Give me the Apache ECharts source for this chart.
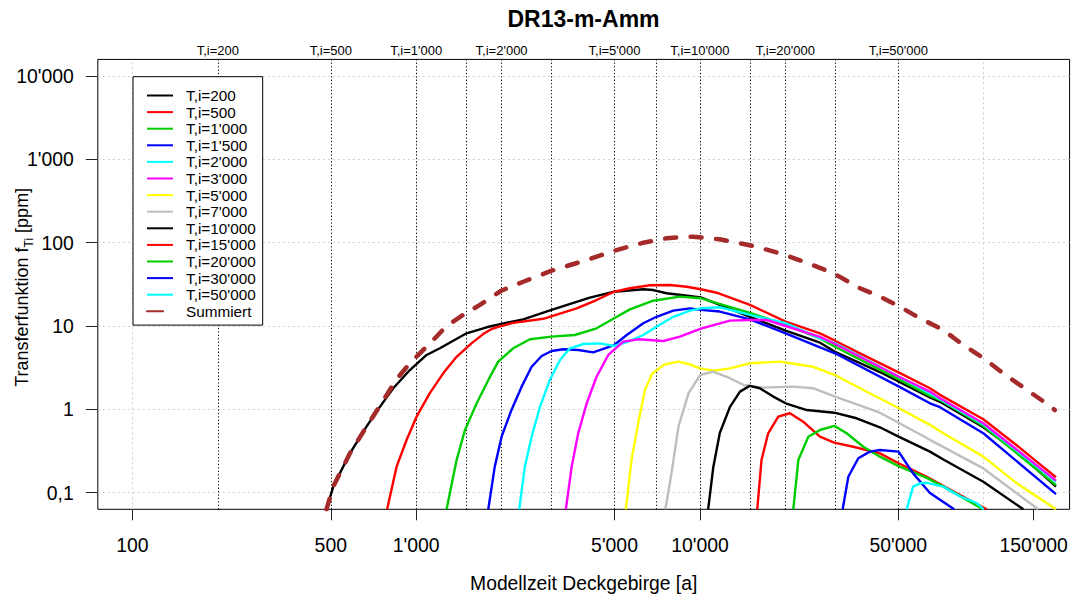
<!DOCTYPE html>
<html><head><meta charset="utf-8">
<script src="https://cdn.jsdelivr.net/npm/echarts@6/dist/echarts.min.js"></script>
<style>html,body{margin:0;padding:0;background:#fff}#c{width:1071px;height:599px}</style>
</head><body><div id="c"></div>
<script>
const FONT = "'Liberation Sans', Arial, sans-serif";
const seriesNames = ["T,i=200","T,i=500","T,i=1'000","T,i=1'500","T,i=2'000","T,i=3'000","T,i=5'000","T,i=7'000","T,i=10'000","T,i=15'000","T,i=20'000","T,i=30'000","T,i=50'000","Summiert"];
const seriesColors = ['#000000','#FF0000','#00CD00','#0000FF','#00FFFF','#FF00FF','#FFFF00','#BEBEBE','#000000','#FF0000','#00CD00','#0000FF','#00FFFF','#A52A2A'];

const t200 = [[483,0.063],[510,0.118],[584,0.296],[668,0.62],[745,1.07],[830,1.79],[950,2.96],[1088,4.49],[1212,5.4],[1505,8.17],[1771,9.65],[1994,10.6],[2384,12.0],[3000,15.6],[4093,21.9],[4988,25.8],[6314,27.6],[6843,27.0],[7631,24.7],[8735,23.4],[10080,22.0],[12760,16.0],[15010,12.9],[20050,8.78],[26500,6.31],[29920,4.91],[43070,2.8],[50300,2.14],[64650,1.39],[70150,1.23],[99700,0.61],[134000,0.29],[179800,0.118]];
const t500 = [[790,0.063],[853,0.205],[925,0.428],[1003,0.815],[1117,1.56],[1245,2.70],[1388,4.27],[1566,6.19],[1722,8.0],[1844,9.2],[1973,9.9],[2197,10.9],[2805,12.2],[3675,16.3],[4322,20.5],[4988,25.8],[5665,28.4],[6664,30.8],[7837,31.0],[8975,29.6],[10080,27.6],[11450,25.1],[15010,17.9],[20050,11.3],[26500,8.17],[29920,6.66],[36640,4.70],[50300,2.75],[64650,1.79],[70150,1.49],[99700,0.76],[130600,0.37],[153700,0.235],[179800,0.153]];
const t1000 = [[1280,0.063],[1388,0.246],[1486,0.565],[1634,1.18],[1820,2.46],[1946,3.73],[2197,5.40],[2517,6.92],[3000,7.45],[3622,7.80],[4322,9.38],[4988,12.4],[5665,15.85],[6843,20.1],[8500,22.5],[10080,21.5],[15010,14.4],[20050,10.3],[26500,7.11],[29920,5.64],[50300,2.29],[64650,1.45],[70150,1.29],[99700,0.63],[179800,0.123]];
const t1500 = [[1795,0.063],[1892,0.205],[2000,0.469],[2167,0.982],[2353,1.87],[2552,3.24],[2768,4.36],[3000,5.01],[3296,5.25],[3724,5.15],[4205,4.83],[4988,5.91],[5520,7.80],[6314,10.8],[7031,12.9],[8054,15.3],[9226,16.3],[10080,15.6],[11750,14.9],[15010,12.0],[20050,8.17],[26500,5.55],[29920,4.70],[50300,1.87],[64650,1.18],[70150,1.06],[99700,0.515],[179800,0.096]];
const t2000 = [[2307,0.063],[2415,0.205],[2552,0.469],[2730,1.07],[2958,2.25],[3212,3.91],[3482,5.40],[3883,6.08],[4446,6.19],[4988,5.75],[5585,6.49],[6314,7.80],[7031,9.8],[8054,12.9],[9226,15.3],[10080,16.3],[11750,16.8],[15010,13.6],[20050,10.8],[26500,7.11],[29920,6.2],[50300,2.46],[64650,1.55],[99700,0.66],[179800,0.135]];
const t3000 = [[3368,0.063],[3532,0.205],[3724,0.515],[3990,1.18],[4322,2.46],[4753,4.49],[5372,6.49],[6067,6.92],[7435,6.61],[8500,7.45],[10080,9.3],[12760,11.6],[15010,11.8],[17180,11.8],[20050,10.0],[26500,7.4],[29920,6.08],[50300,2.46],[64650,1.63],[70150,1.36],[99700,0.68],[179800,0.139]];
const t5000 = [[5480,0.063],[5742,0.25],[6067,0.7],[6400,1.7],[6800,2.7],[7500,3.45],[8390,3.73],[9100,3.5],[10000,3.1],[11140,2.9],[12760,3.1],[14970,3.57],[19140,3.73],[20050,3.65],[25060,3.24],[29920,2.58],[36640,1.79],[50300,1.03],[64650,0.65],[72100,0.515],[99700,0.27],[130600,0.13],[179800,0.063]];
const t7000 = [[7551,0.063],[7940,0.171],[8400,0.618],[9120,1.56],[10030,2.58],[11110,2.83],[12760,2.36],[14230,1.96],[16720,1.82],[21330,1.87],[25060,1.79],[29920,1.42],[43070,0.91],[50130,0.69],[64650,0.43],[99700,0.195],[155600,0.063]];
const t10000 = [[10690,0.063],[11140,0.2],[11750,0.52],[12760,1.07],[13840,1.63],[14970,1.91],[16260,1.79],[18130,1.42],[20050,1.18],[23790,0.98],[29740,0.91],[35660,0.78],[43070,0.608],[50130,0.469],[64650,0.31],[72100,0.25],[99700,0.135],[138000,0.063]];
const t15000 = [[15920,0.063],[16480,0.246],[17400,0.515],[18880,0.815],[20750,0.896],[23120,0.71],[26480,0.469],[29740,0.398],[34680,0.355],[43070,0.296],[50130,0.225],[63000,0.155],[80400,0.098],[102500,0.063]];
const t20000 = [[21330,0.063],[22220,0.246],[24100,0.469],[26480,0.564],[29740,0.632],[32890,0.515],[37670,0.355],[43070,0.27],[50130,0.208],[63000,0.15],[72100,0.118],[99600,0.063]];
const t30000 = [[31840,0.063],[33340,0.155],[36150,0.258],[39720,0.31],[43070,0.324],[50130,0.31],[56400,0.17],[64650,0.099],[78700,0.063]];
const t50000 = [[53500,0.063],[56400,0.118],[60000,0.13],[63000,0.131],[72100,0.118],[82600,0.09],[94400,0.075],[100000,0.063]];
const summiert = [[483,0.063],[510,0.118],[584,0.296],[668,0.62],[745,1.1],[853,2.3],[950,3.57],[1030,4.70],[1148,6.79],[1280,10.0],[1465,13.6],[1677,17.9],[1994,26.5],[2384,34.0],[3000,46.1],[4093,63.7],[4988,80.1],[6314,100],[7631,113],[8975,118],[9460,118],[11750,110],[15420,91.2],[19140,74.6],[23790,57.5],[29510,43.0],[36640,28.4],[43070,22.5],[50130,17.4],[59560,12.4],[72100,8.95],[84700,5.91],[100000,4.09],[117300,2.70],[141900,1.71],[169200,1.13],[178000,0.98]];

const allData = [t200,t500,t1000,t1500,t2000,t3000,t5000,t7000,t10000,t15000,t20000,t30000,t50000,summiert];

const tiLines = [200,500,1000,1500,2000,3000,5000,7000,10000,15000,20000,30000,50000];
const tiLabeled = [200,500,1000,2000,5000,10000,20000,50000];
const gridDecades = [100,1000,10000,100000];
const xTickValues = [100,500,1000,5000,10000,50000,150000];
const yTickValues = [0.1,1,10,100,1000,10000];

function fmt(v){
  if (v < 1) return String(Math.round(v*1000)/1000).replace('.', ',');
  return String(Math.round(v)).replace(/\B(?=(\d{3})+(?!\d))/g, "'");
}

const markData = [];
gridDecades.forEach(v => markData.push({xAxis: v, lineStyle:{color:'#d0d0d0', type:[2,3], width:1}, label:{show:false}}));
tiLines.forEach(v => markData.push({xAxis: v, lineStyle:{color:'#000', type:[1.2,2.2], width:1},
  label:{show: tiLabeled.indexOf(v) >= 0, position:'end', distance:2, formatter:'T,i=' + fmt(v), color:'#000', fontSize:13, fontFamily:FONT}}));

const series = allData.map((d, i) => {
  const isSum = i === allData.length - 1;
  return {
    name: seriesNames[i], type:'line', data:d, symbol:'none', showSymbol:false, clip:true,
    animation:false, silent:true,
    lineStyle: isSum ? {color:seriesColors[i], width:4.5, type:[11,14.5], cap:'round'} : {color:seriesColors[i], width:2.4},
    itemStyle:{color:seriesColors[i]},
    z: 3
  };
});
series.unshift({
  name:'_grid', type:'line', data:[], symbol:'none', silent:true, animation:false, z:1,
  markLine:{silent:true, symbol:'none', animation:false, z:1, data: markData, emphasis:{disabled:true}}
});

const chart = echarts.init(document.getElementById('c'), null, {renderer:'svg'});
chart.setOption({
  animation:false,
  textStyle:{fontFamily:FONT},
  graphic:[{type:'text', x:583.5, y:19, style:{text:'DR13-m-Amm', fontSize:23, fontWeight:'bold', fontFamily:FONT, fill:'#000', align:'center', verticalAlign:'middle'}}],
  grid:{left:97.8, right:1.4, top:59.4, bottom:89.7, show:true, containLabel:false, outerBoundsMode:'none', borderColor:'#000', borderWidth:1, backgroundColor:'transparent'},
  legend:{
    orient:'vertical', left:133, top:76.7,
    data: seriesNames.map((n,i)=> i===13 ? {name:n, lineStyle:{type:[16,20]}} : {name:n}),
    itemWidth:26, itemHeight:4, itemGap:0,
    padding:[10.5, 7, 5.5, 13],
    borderColor:'#000', borderWidth:1, borderRadius:0, backgroundColor:'#fff',
    textStyle:{fontSize:15.3, lineHeight:16.6, padding:[0,0,0,8], color:'#000', fontFamily:FONT},
    itemStyle:{opacity:0},
    selectedMode:false
  },
  xAxis:{
    type:'log', logBase:10, min:75.5, max:200800,
    name:'Modellzeit Deckgebirge [a]', nameLocation:'middle', nameGap:65, nameMoveOverlap:false,
    nameTextStyle:{fontSize:19.3, color:'#000', fontFamily:FONT},
    axisLine:{show:false},
    axisTick:{show:true, inside:false, length:11, customValues:xTickValues, lineStyle:{color:'#222'}},
    axisLabel:{show:true, margin:26, fontSize:19.4, color:'#000', fontFamily:FONT, customValues:xTickValues, formatter:v=>fmt(v)},
    splitLine:{show:false}, minorTick:{show:false}
  },
  yAxis:{
    type:'log', logBase:10, min:0.063, max:15870,
    name:'{a|Transferfunktion f}{b|Ti}{a| [ppm]}', nameLocation:'middle', nameGap:63, nameRotate:90, nameMoveOverlap:false,
    nameTextStyle:{color:'#000', fontFamily:FONT, padding:[0,6,0,0], rich:{a:{fontSize:18, lineHeight:26, verticalAlign:'middle', fontFamily:FONT, color:'#000'}, b:{fontSize:12, lineHeight:12, verticalAlign:'bottom', fontFamily:FONT, color:'#000'}}},
    axisLine:{show:false},
    axisTick:{show:true, inside:false, length:12, customValues:yTickValues, lineStyle:{color:'#222'}},
    axisLabel:{show:true, margin:24, fontSize:19.4, color:'#000', fontFamily:FONT, customValues:yTickValues, formatter:v=>fmt(v)},
    splitLine:{show:true, lineStyle:{color:'#d0d0d0', type:[2,3], width:1}}
  },
  series: series
});
</script></body></html>
